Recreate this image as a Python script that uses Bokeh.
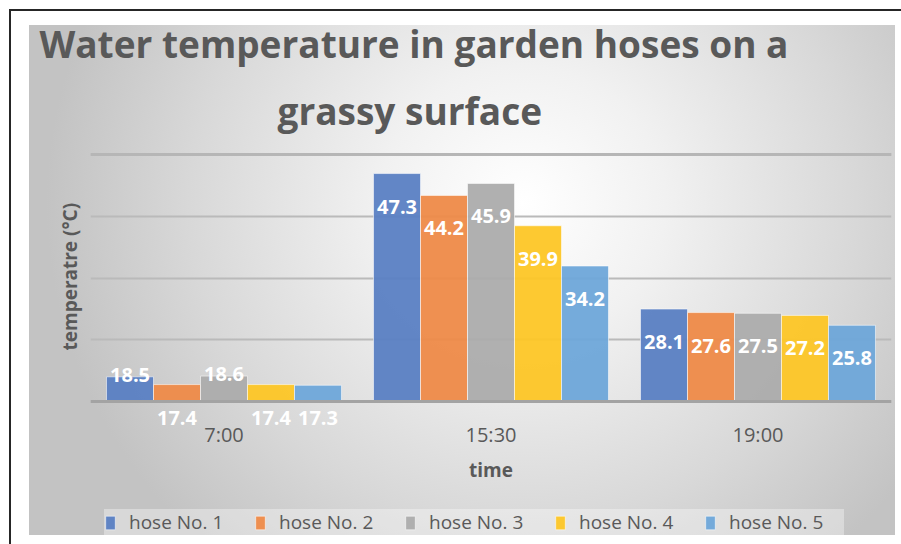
from bokeh.plotting import figure
from bokeh.models import (ColumnDataSource, FactorRange, Range1d, FixedTicker, Title,
                          Legend, LegendItem, Span)
from bokeh.transform import dodge
from bokeh.core.properties import value
from bokeh.embed import file_html
from bokeh.resources import INLINE

# ---- data ----
times = ["7:00", "15:30", "19:00"]
hoses = ["hose No. 1", "hose No. 2", "hose No. 3", "hose No. 4", "hose No. 5"]
hose1 = [18.5, 47.3, 28.1]
hose2 = [17.4, 44.2, 27.6]
hose3 = [18.6, 45.9, 27.5]
hose4 = [17.4, 39.9, 27.2]
hose5 = [17.3, 34.2, 25.8]
y_ticks = [15, 23.75, 32.5, 41.25, 50]
title_lines = ["Water temperature in garden hoses on a", "grassy surface"]
x_title = "time"
y_title = "temperatre (°C)"

series = [hose1, hose2, hose3, hose4, hose5]
colors = ["#5a80c3", "#ee8a48", "#acacac", "#fdc626", "#6ea6d9"]
TXT = "#595959"
FONT = "Open Sans"

# ---- layout: frame runs from below the title to the bottom; axis drawn at the baseline ----
W, H = 901, 544
frame_top = 146
base_px, top_px = 401, 154          # screen rows of the first and last tick
ppu = (base_px - top_px) / (y_ticks[-1] - y_ticks[0])
y_lo = y_ticks[0] - (H - base_px) / ppu
y_hi = y_ticks[-1] + (top_px - frame_top) / ppu

p = figure(x_range=FactorRange(factors=times, range_padding=0),
           y_range=Range1d(y_lo, y_hi), title=None,
           width=W, height=H, output_backend="svg", toolbar_location=None,
           min_border_left=90, min_border_right=10, min_border_top=frame_top, min_border_bottom=0,
           background_fill_color=None, border_fill_color=None, outline_line_color=None)

p.styles = {
    "background": (
        "linear-gradient(#262626,#262626) 9px 9px / 100% 2px no-repeat, "
        "linear-gradient(#262626,#262626) 9px 9px / 2px 100% no-repeat, "
        "radial-gradient(ellipse 55% 90% at 57% 35%, #ffffff 0%, #f1f1f1 30%, #d8d8d8 70%, #c3c3c3 100%) "
        "29px 25px / 866px 510px no-repeat, white")
}

# grid
p.xgrid.grid_line_color = None
p.ygrid.ticker = FixedTicker(ticks=y_ticks)
p.ygrid.grid_line_color = "#bababa"
p.ygrid.grid_line_width = 2
p.add_layout(Span(location=y_ticks[-1], dimension="width", line_color="#b6b6b6", line_width=3,
                  level="underlay"))

bw = 0.176
items = []
for i, (name, vals, c) in enumerate(zip(hoses, series, colors)):
    offs = [-2 if 18 <= v < 20 else 33 for v in vals]
    src = ColumnDataSource(dict(t=times, v=vals, lab=[f"{v:.1f}" for v in vals], off=offs))
    xd = dodge("t", (i - 2) * bw, range=p.x_range)
    r = p.vbar(x=xd, top="v", bottom=y_ticks[0], width=bw, fill_color=c, fill_alpha=0.95,
               line_color="white", line_alpha=0.55, line_width=1, source=src)
    p.text(x=xd, y="v", text="lab", y_offset="off", text_align="center",
           text_baseline="middle", text_color="white", text_font=value(FONT),
           text_font_style="bold", text_font_size="20px", source=src)
    items.append(LegendItem(label=name, renderers=[r]))

# x axis at the baseline
p.xaxis.fixed_location = y_ticks[0]
p.xaxis.axis_line_color = "#a3a3a3"
p.xaxis.axis_line_width = 3
p.xaxis.major_tick_line_color = None
p.xaxis.minor_tick_line_color = None
p.xaxis.major_tick_out = 0
p.xaxis.major_tick_in = 0
p.xaxis.major_label_text_font = FONT
p.xaxis.major_label_text_font_size = "20px"
p.xaxis.major_label_text_color = TXT
p.xaxis.major_label_standoff = 19
p.xaxis.axis_label = x_title
p.xaxis.axis_label_text_font = FONT
p.xaxis.axis_label_text_font_style = "bold"
p.xaxis.axis_label_text_font_size = "19px"
p.xaxis.axis_label_text_color = TXT
p.xaxis.axis_label_standoff = 6

p.yaxis.visible = False

# y title on the left
p.add_layout(Title(text=y_title, align="left", offset=194, standoff=15,
                   text_font=FONT, text_font_style="bold", text_font_size="19px",
                   text_color=TXT), "left")

# chart title, two lines (nearest the frame first)
p.add_layout(Title(text=title_lines[1], align="left", offset=187, standoff=22,
                   text_font=FONT, text_font_style="bold", text_font_size="37px",
                   text_color=TXT), "above")
p.add_layout(Title(text=title_lines[0], align="left", offset=-51, standoff=5,
                   text_font=FONT, text_font_style="bold", text_font_size="37px",
                   text_color=TXT), "above")

legend = Legend(items=items, orientation="horizontal", location=(14, 9),
                label_text_font=FONT, label_text_font_size="19px", label_text_color=TXT,
                glyph_width=12, glyph_height=17, label_standoff=13, spacing=10,
                label_width=115, padding=9, margin=0,
                background_fill_color="white", background_fill_alpha=0.35,
                border_line_color=None)
p.add_layout(legend, "center")

open("out.html", "w").write(file_html(p, INLINE))
